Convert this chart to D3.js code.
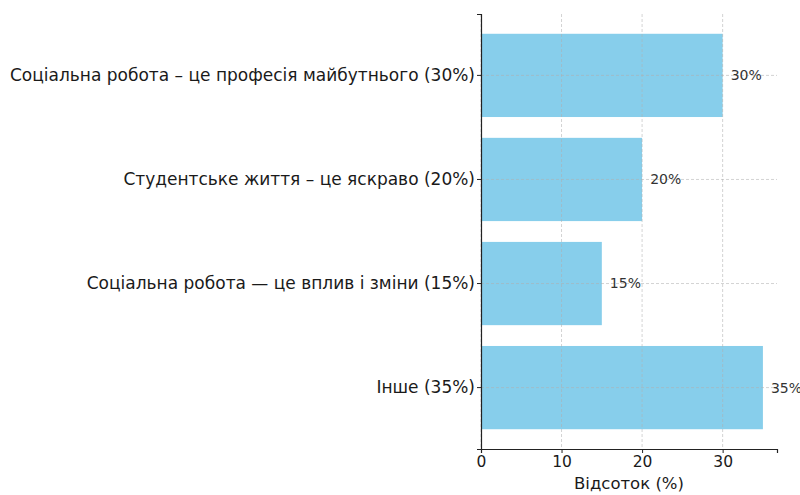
<!DOCTYPE html>
<html>
<head>
<meta charset="utf-8">
<script src="https://cdn.jsdelivr.net/npm/d3@7"></script>
<style>
  html, body { margin: 0; padding: 0; background: #fff; }
  svg { display: block; font-family: "DejaVu Sans", sans-serif; }
</style>
</head>
<body>
<svg id="chart" width="800" height="495"></svg>
<script>
// Survey answers and their shares (%)
const categories = [
  "Соціальна робота – це професія майбутнього (30%)",
  "Студентське життя – це яскраво (20%)",
  "Соціальна робота — це вплив і зміни (15%)",
  "Інше (35%)"
];
const values = [30, 20, 15, 35];
const xTicks = [0, 10, 20, 30];
const xLabel = "Відсоток (%)";

const svg = d3.select("#chart");
const plotLeft = 481, plotRight = 777, plotTop = 14, plotBottom = 449;

const x = d3.scaleLinear().domain([0, 36.75]).range([plotLeft, plotRight]);
const y = d3.scaleBand().domain(categories).range([plotTop, plotBottom])
  .paddingInner(0.2).paddingOuter(0.19);

// bars
svg.append("g").selectAll("rect").data(categories).join("rect")
  .attr("x", x(0))
  .attr("y", d => y(d))
  .attr("width", (d, i) => x(values[i]) - x(0))
  .attr("height", y.bandwidth())
  .attr("fill", "#87ceeb");

// dashed grid drawn over the bars
const grid = svg.append("g")
  .attr("stroke", "#b0b0b0")
  .attr("stroke-opacity", 0.7)
  .attr("stroke-width", 0.8)
  .attr("stroke-dasharray", "3,2");
grid.selectAll("line.v").data(xTicks).join("line").attr("class", "v")
  .attr("x1", d => x(d)).attr("x2", d => x(d))
  .attr("y1", plotTop).attr("y2", plotBottom);
grid.selectAll("line.h").data(categories).join("line").attr("class", "h")
  .attr("x1", plotLeft).attr("x2", plotRight)
  .attr("y1", d => y(d) + y.bandwidth() / 2)
  .attr("y2", d => y(d) + y.bandwidth() / 2);

// value labels
svg.append("g").selectAll("text").data(categories).join("text")
  .attr("x", (d, i) => x(values[i] + 1))
  .attr("y", d => y(d) + y.bandwidth() / 2)
  .attr("dy", "0.35em")
  .attr("font-size", 14)
  .attr("fill", "#333")
  .text((d, i) => values[i] + "%");

// x axis
const xAxis = svg.append("g")
  .attr("transform", `translate(0,${plotBottom})`)
  .call(d3.axisBottom(x).tickValues(xTicks).tickSizeOuter(0).tickSize(4).tickPadding(3));
xAxis.select(".domain").attr("stroke", "#222").attr("stroke-width", 1.2);
xAxis.selectAll(".tick line").attr("stroke", "#222");
xAxis.selectAll(".tick text").attr("font-size", 15.5).attr("fill", "#1a1a1a")
  .attr("font-family", "DejaVu Sans, sans-serif");

// y axis
const yAxis = svg.append("g")
  .attr("transform", `translate(${plotLeft},0)`)
  .call(d3.axisLeft(y).tickSizeOuter(0).tickSize(4).tickPadding(2));
yAxis.select(".domain").attr("stroke", "#222").attr("stroke-width", 1.2);
yAxis.selectAll(".tick line").attr("stroke", "#222");
yAxis.selectAll(".tick text").attr("font-size", 17).attr("fill", "#1a1a1a")
  .attr("font-family", "DejaVu Sans, sans-serif");

// axis title
svg.append("text")
  .attr("x", (plotLeft + plotRight) / 2)
  .attr("y", 489)
  .attr("text-anchor", "middle")
  .attr("font-size", 16.5)
  .attr("fill", "#1a1a1a")
  .text(xLabel);
</script>
</body>
</html>
